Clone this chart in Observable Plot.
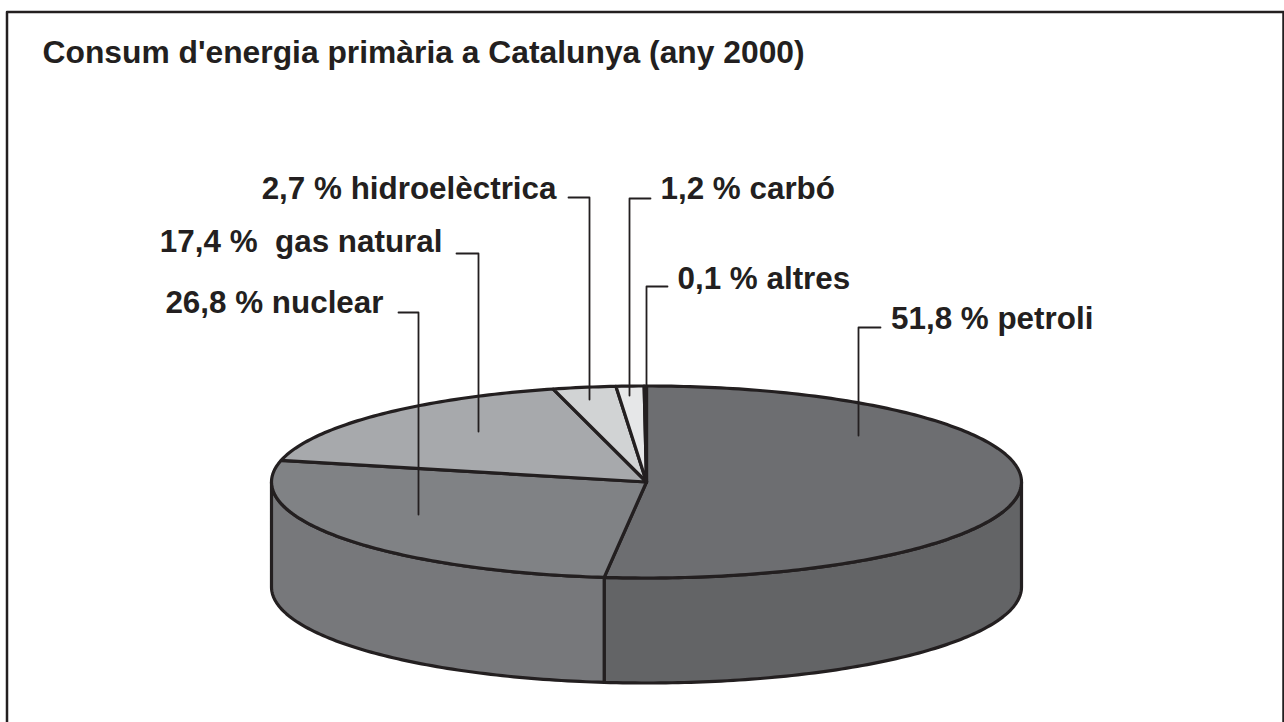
<!DOCTYPE html>
<html><head><meta charset="utf-8">
<style>html,body{margin:0;padding:0;background:#fff;overflow:hidden}svg{display:block}</style>
<script src="https://cdn.jsdelivr.net/npm/d3@7"></script>
<script src="https://cdn.jsdelivr.net/npm/@observablehq/plot@0.6"></script>
</head><body><div id="chart"></div>
<script>
const chartTitle = "Consum d'energia primària a Catalunya (any 2000)";
const sources = ["petroli", "nuclear", "gas natural", "hidroelèctrica", "carbó", "altres"];
const shares = [51.8, 26.8, 17.4, 2.7, 1.2, 0.1];
const labels = ["51,8 % petroli", "26,8 % nuclear", "17,4 %\u00a0 gas natural", "2,7 % hidroelèctrica", "1,2 % carbó", "0,1 % altres"];
const topColors = ["#6d6e71", "#808285", "#a7a9ac", "#d1d3d4", "#e6e7e8", "#f1f2f2"];
const sideColors = ["#636466", "#77787b"];

// page layout, in the chart's own 1284x722 plane
const W = 1284, H = 722, ink = "#231f20", font = "'Liberation Sans', Arial, sans-serif";
const cx = 646, cy = 481.5, rx = 375, ry = 96, depth = 105;
const frameLine = [[6.5, 722], [6.5, 11.5], [1283, 11.5], [1283, 722]];
// per label: text point, anchor, leader path
const callouts = [
  {x: 890.5, y: 328, anchor: "start", path: [[880, 327], [858, 327], [858, 435]]},
  {x: 383, y: 312, anchor: "end", path: [[398, 312], [418, 312], [418, 514]]},
  {x: 442, y: 251, anchor: "end", path: [[456, 253], [478, 253], [478, 431]]},
  {x: 556, y: 198, anchor: "end", path: [[568, 197], [589, 197], [589, 399]]},
  {x: 660, y: 198, anchor: "start", path: [[650, 198], [629, 198], [629, 395]]},
  {x: 677, y: 288, anchor: "start", path: [[667, 286], [646, 286], [646, 400]]}
];

const total = d3.sum(shares);
const turn = d3.cumsum([0, ...shares]).map(v => v / total * 2 * Math.PI);
const rim = (a, dy = 0) => ({x: cx + rx * Math.sin(a), y: cy - ry * Math.cos(a) + dy});
const arc = (a0, a1, dy = 0) => {
  const n = Math.max(2, Math.ceil(Math.abs(a1 - a0) * 60));
  return d3.range(n + 1).map(i => rim(a0 + (a1 - a0) * i / n, dy));
};

const topPts = sources.flatMap((s, i) => {
  const ring = [{x: cx, y: cy}, ...arc(turn[i], turn[i + 1]), {x: cx, y: cy}];
  return ring.map(p => ({...p, id: s, color: topColors[i]}));
});
const half = Math.PI / 2;
const sideSpans = [[half, turn[1]], [turn[1], 3 * half]];
const sidePts = sideSpans.flatMap(([a0, a1], i) => {
  const ring = [...arc(a0, a1), ...arc(a1, a0, depth)];
  ring.push(ring[0]);
  return ring.map(p => ({...p, id: sources[i], color: sideColors[i]}));
});
const frame = frameLine.map(([x, y]) => ({x, y}));
const leaders = callouts.flatMap((c, i) => c.path.map(([x, y]) => ({x, y, id: sources[i]})));
const texts = callouts.map((c, i) => ({...c, label: labels[i]}));

const pieStyle = {x: "x", y: "y", z: "id", fill: "color", stroke: ink, strokeWidth: 3.2, strokeLinejoin: "round", curve: "linear"};
const textStyle = {x: "x", y: "y", text: "label", fontFamily: font, fontWeight: "bold", fontSize: 31.4, fill: ink, lineAnchor: "bottom"};

const plot = Plot.plot({
  width: W, height: H, margin: 0,
  x: {domain: [0, W], range: [0, W], axis: null},
  y: {domain: [0, H], range: [0, H], axis: null},
  color: {type: "identity"},
  style: {background: "#fff"},
  marks: [
    Plot.line(frame, {x: "x", y: "y", stroke: ink, strokeWidth: 2.5}),
    Plot.line(sidePts, pieStyle),
    Plot.line(topPts, pieStyle),
    Plot.line(leaders, {x: "x", y: "y", z: "id", stroke: ink, strokeWidth: 1.8}),
    Plot.text(texts.filter(d => d.anchor === "start"), {...textStyle, textAnchor: "start"}),
    Plot.text(texts.filter(d => d.anchor === "end"), {...textStyle, textAnchor: "end"}),
    Plot.text([chartTitle], {x: () => 42, y: () => 62, text: d => d, fontFamily: font, fontWeight: "bold", fontSize: 31.8, fill: ink, textAnchor: "start", lineAnchor: "bottom"})
  ]
});
document.getElementById("chart").appendChild(plot);
</script></body></html>
